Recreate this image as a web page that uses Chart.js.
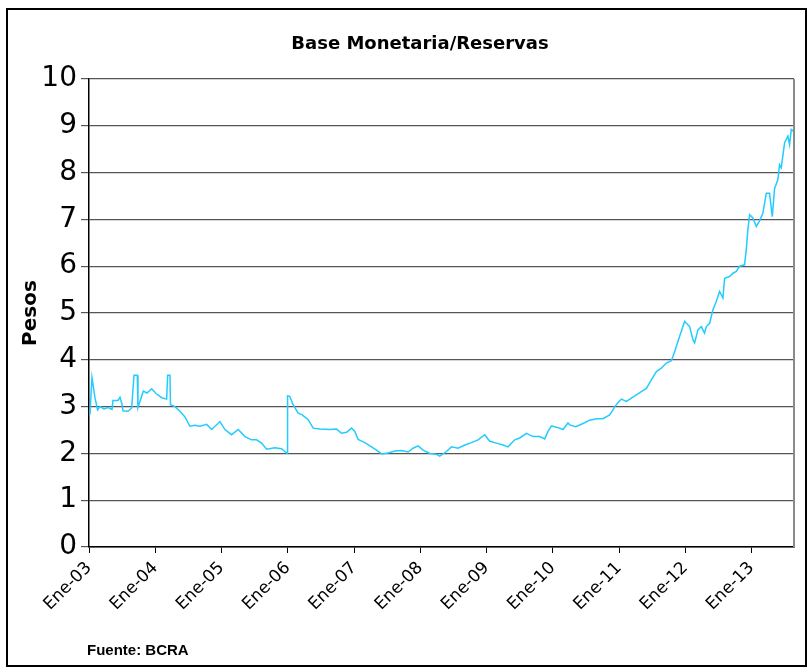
<!DOCTYPE html>
<html>
<head>
<meta charset="utf-8">
<script src="https://cdn.jsdelivr.net/npm/chart.js@4.4.0/dist/chart.umd.min.js"></script>
<style>
  html, body { margin: 0; padding: 0; background: #fff; }
  #wrap { position: relative; width: 809px; height: 669px; }
  #frame { position: absolute; left: 6px; top: 8px; width: 797px; height: 655px; border: 2px solid #000; box-sizing: content-box; pointer-events: none; }
  #title { position: absolute; left: 0; width: 840px; top: 32px; text-align: center; font: bold 18px "DejaVu Sans", sans-serif; color: #000; }
  #source { position: absolute; left: 87px; top: 641px; font: bold 15px "Liberation Sans", Arial, sans-serif; color: #000; }
  canvas { position: absolute; left: 0; top: 0; }
</style>
</head>
<body>
<div id="wrap">
  <canvas id="c" width="809" height="669"></canvas>
  <div id="frame"></div>
  <div id="title">Base Monetaria/Reservas</div>
  <div id="source">Fuente: BCRA</div>
</div>
<script>
// Tick labels (one per January)
const tickLabels = ['Ene-03','Ene-04','Ene-05','Ene-06','Ene-07','Ene-08','Ene-09','Ene-10','Ene-11','Ene-12','Ene-13'];
const firstYear = 2003;

// Dates as decimal years
const fechas = [
  2003.015,2003.045,2003.09,2003.13,2003.166,2003.226,2003.287,2003.347,2003.362,2003.437,
  2003.468,2003.498,2003.513,2003.588,2003.644,2003.679,2003.729,2003.739,2003.769,2003.819,
  2003.875,2003.946,2004.011,2004.097,2004.172,2004.187,2004.222,2004.23,2004.297,2004.373,
  2004.448,2004.523,2004.599,2004.674,2004.775,2004.851,2004.976,2005.051,2005.152,2005.252,
  2005.353,2005.454,2005.529,2005.605,2005.680,2005.805,2005.906,2005.971,2005.994,2005.997,
  2006.03,2006.08,2006.157,2006.213,2006.284,2006.308,2006.383,2006.484,2006.635,2006.736,
  2006.811,2006.887,2006.962,2007.012,2007.062,2007.163,2007.264,2007.339,2007.415,2007.514,
  2007.615,2007.716,2007.816,2007.891,2007.967,2008.042,2008.143,2008.244,2008.294,2008.395,
  2008.471,2008.570,2008.671,2008.772,2008.872,2008.973,2009.048,2009.149,2009.249,2009.324,
  2009.425,2009.501,2009.602,2009.701,2009.802,2009.878,2009.928,2009.979,2010.079,2010.154,
  2010.229,2010.255,2010.345,2010.456,2010.557,2010.658,2010.757,2010.858,2010.908,2010.934,
  2010.983,2011.035,2011.110,2011.186,2011.261,2011.336,2011.412,2011.487,2011.563,2011.638,
  2011.713,2011.789,2011.839,2011.888,2011.940,2011.989,2012.039,2012.065,2012.115,2012.14,
  2012.19,2012.241,2012.29,2012.317,2012.367,2012.416,2012.468,2012.517,2012.567,2012.593,
  2012.668,2012.718,2012.769,2012.819,2012.894,2012.920,2012.944,2012.97,2013.02,2013.071,
  2013.12,2013.17,2013.222,2013.271,2013.312,2013.347,2013.397,2013.422,2013.448,2013.498,
  2013.548,2013.573,2013.599,2013.633
];
// Base Monetaria / Reservas (pesos)
const valores = [
  2.83,3.62,3.19,2.93,3.00,2.95,2.98,2.94,3.13,3.13,
  3.20,3.05,2.91,2.90,2.97,3.67,3.67,2.98,3.11,3.33,
  3.29,3.38,3.28,3.19,3.16,3.67,3.67,3.04,3.00,2.90,
  2.78,2.58,2.60,2.58,2.62,2.51,2.68,2.51,2.40,2.51,
  2.36,2.29,2.29,2.22,2.09,2.12,2.10,2.02,2.00,3.23,
  3.22,3.04,2.86,2.83,2.75,2.72,2.54,2.52,2.51,2.52,
  2.43,2.45,2.54,2.47,2.30,2.23,2.14,2.07,1.99,2.01,
  2.05,2.06,2.03,2.11,2.16,2.07,2.00,1.98,1.94,2.04,
  2.14,2.11,2.18,2.23,2.29,2.40,2.26,2.22,2.18,2.14,
  2.29,2.33,2.43,2.36,2.36,2.31,2.47,2.59,2.55,2.51,
  2.65,2.61,2.57,2.64,2.71,2.74,2.74,2.82,2.93,3.00,
  3.08,3.16,3.11,3.18,3.25,3.32,3.39,3.57,3.75,3.82,
  3.93,3.98,4.17,4.39,4.61,4.82,4.75,4.71,4.43,4.36,
  4.64,4.71,4.57,4.71,4.78,5.07,5.25,5.46,5.32,5.74,
  5.78,5.85,5.89,6.00,6.03,6.36,6.78,7.10,7.03,6.85,
  6.97,7.13,7.56,7.56,7.06,7.66,7.85,8.17,8.10,8.64,
  8.78,8.60,8.92,8.88
];
const yTicks = [0,1,2,3,4,5,6,7,8,9,10];

const points = fechas.map((f, i) => ({ x: f, y: valores[i] }));

const rightBorder = {
  id: 'rightBorder',
  afterDraw(chart) {
    const a = chart.chartArea, ctx = chart.ctx;
    ctx.save();
    ctx.strokeStyle = '#8a8a8a';
    ctx.lineWidth = 2;
    ctx.beginPath();
    ctx.moveTo(a.right, a.top);
    ctx.lineTo(a.right, a.bottom);
    ctx.stroke();
    ctx.restore();
  }
};

new Chart(document.getElementById('c'), {
  type: 'line',
  data: {
    datasets: [{
      data: points,
      borderColor: '#22CCFF',
      borderWidth: 1.5,
      pointRadius: 0,
      tension: 0,
      fill: false
    }]
  },
  options: {
    responsive: false,
    animation: false,
    layout: { padding: { top: 79, left: 8, right: 15, bottom: 42 } },
    plugins: { legend: { display: false }, tooltip: { enabled: false }, title: { display: false } },
    scales: {
      x: {
        type: 'linear',
        min: firstYear,
        max: 2013.64,
        afterFit(s) { s.height = 80; },
        afterBuildTicks(s) { s.ticks = tickLabels.map((_, i) => ({ value: firstYear + i })); },
        ticks: {
          autoSkip: false,
          maxRotation: 45,
          minRotation: 45,
          color: '#000',
          padding: 5,
          font: { family: '"DejaVu Sans", sans-serif', size: 17 },
          callback(v) { return tickLabels[Math.round(v - firstYear)]; }
        },
        grid: { drawOnChartArea: false, drawTicks: true, tickLength: 6, color: '#000', lineWidth: 1 },
        border: { display: true, color: '#000', width: 1.5 }
      },
      y: {
        min: 0,
        max: 10,
        afterFit(s) { s.width = 81; },
        afterBuildTicks(s) { s.ticks = yTicks.map(v => ({ value: v })); },
        ticks: {
          color: '#000',
          padding: 4,
          font: { family: '"DejaVu Sans", sans-serif', size: 28 }
        },
        grid: { color: '#555', lineWidth: 1.2, tickLength: 8 },
        border: { display: true, color: '#000', width: 1.5 },
        title: {
          display: true,
          text: 'Pesos',
          color: '#000',
          padding: { top: 11, bottom: 0 },
          font: { family: '"DejaVu Sans", sans-serif', size: 20, weight: 'bold' }
        }
      }
    }
  },
  plugins: [rightBorder]
});
</script>
</body>
</html>
